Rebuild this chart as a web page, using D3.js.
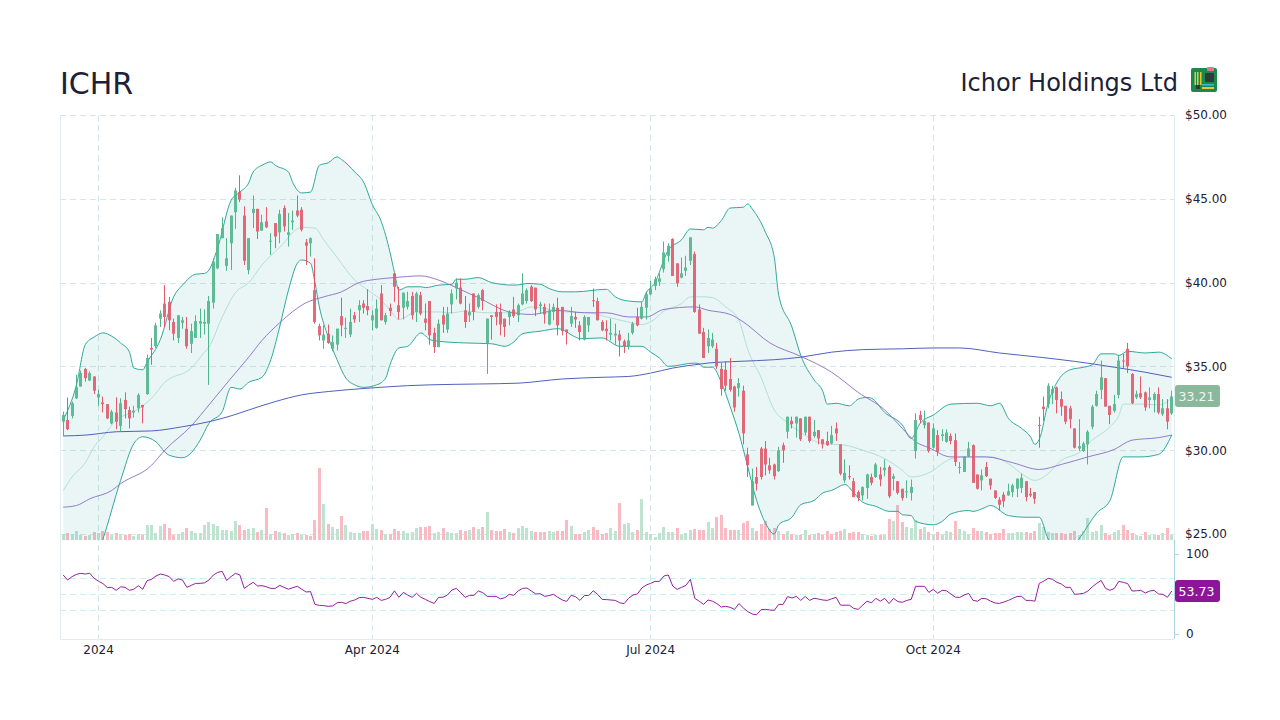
<!DOCTYPE html>
<html>
<head>
<meta charset="utf-8">
<script src="https://cdn.jsdelivr.net/npm/d3@7"></script>
<style>
html,body{margin:0;padding:0;background:#fff;}
svg{display:block;font-family:"DejaVu Sans",sans-serif;}
</style>
</head>
<body>
<svg id="c" width="1280" height="720"></svg>
<script>
const symbol = "ICHR";
const companyName = "Ichor Holdings Ltd";
const lastPrice = 33.21;
const lastRsi = 53.73;
const priceTicks = [25,30,35,40,45,50];
const rsiTicks = [0,100];
const rsiGuides = [30,50,70];
const dateTicks = [[8,"2024"],[70,"Apr 2024"],[133,"Jul 2024"],[197,"Oct 2024"]];

const opens = [31.7,31.8,32.05,33.1,33.8,34.85,34.15,34.4,33.15,32.85,
32.75,31.6,32.25,31.45,33,32.4,32.25,32.5,32.7,33.35,
36.1,36.2,37.85,38.75,38.85,37.65,36.7,37.6,37.25,36.35,
36.7,37.55,37.55,37.55,38.8,40.85,42.65,41,42.35,44.2,
45.4,44,40.75,44.15,44.4,43.1,43.65,42.45,43.55,43,
44.45,42.85,43.6,44.3,44.35,42.4,42.35,39.55,37.4,36.55,
36.95,36.05,36.3,38,37.25,36.9,38.05,38.35,38.75,38.6,
37.75,37.3,39.35,37.65,38.5,40.55,38.65,38.5,38.55,39.2,
38.25,39.25,37.85,38.9,37,36.15,38.05,37.2,38.7,39.65,
39.7,38.35,38.05,39.35,38.55,39.55,36.4,38.05,38.25,38.25,
37.85,37.95,38.4,38.05,38.7,38.9,39.75,39.7,38.6,38.55,
37.5,38.25,38.5,38.55,37.2,37.55,37.95,37.45,36.6,37.45,
38.95,38.9,37.65,37.25,36.9,36.85,36.9,36.5,36.2,37,
37.95,37.85,38.5,39.3,39.8,40.05,40.8,41.6,42.6,41.15,
40.3,40.7,41.3,41.7,38.4,37.05,36.2,36.2,36.05,34.85,
34.8,34.25,33.8,33.7,33.55,29.75,26.7,28.4,30.1,30.1,
29.1,29.15,28.75,30.3,31.1,31.75,31.6,31.9,31.05,32,
30.85,31.2,30.65,30.55,30.4,31.3,30.35,28.2,28.45,28.15,
27.5,27.3,27.75,28.4,28.4,28.55,28.8,29,28.3,28.15,
27.7,27.5,27.45,29.95,32.1,31.5,31.65,30.15,30.9,30.85,
30.5,30.85,30.6,28.95,28.7,29.65,30.3,28.55,28.2,29,
28.3,27.6,27.05,27.35,27.3,27.5,27.7,27.75,28.15,27.4,
27.5,31.5,32.6,32.75,33.4,33.75,33.05,32.65,32.5,31.3,
30.1,29.95,30.35,31.4,32.65,33.6,34.3,32.65,32.35,33.3,
35.35,36.05,34.55,33.15,33.4,33.45,33,33,33.35,32.15,
32.5,32.2];

const closes = [32.1,31.25,32.8,33.75,34.6,34.3,34.6,33.55,33.35,32.75,
31.9,32.3,31.7,32.8,32.45,31.9,32.35,33.3,32.55,35.5,
36,37.45,38.15,37.95,37.75,36.95,38.05,37.75,36.2,37.1,
37.7,37.7,37.65,38.9,41.25,42.9,43.25,41.45,44,45.5,
44.95,41.3,42.65,44.4,43.05,43.6,43.3,42.5,42.75,44.1,
43.35,43,43.7,44,43.15,42.2,42.65,37.65,36.85,36.9,
36.4,36.45,37.25,37.45,37.3,37.65,37.8,38.65,38.5,38.35,
38.05,38.45,37.75,38.05,38.3,39.75,38.25,39.4,38.9,38.05,
39.35,38.15,37.6,36.85,36.15,37.55,37.5,38.15,39.35,40,
38.75,37.65,38.25,38.25,39.25,38.9,37.85,37.95,37.95,37.5,
37.35,38.25,38,38.65,39.35,39.55,38.9,38.4,38.7,38.1,
38.35,38.55,37.45,37.1,37.05,38,37.8,37.05,37.95,37.95,
38.9,37.75,37.15,37.1,37,36.95,36.55,36.2,36.55,37.55,
37.45,38.55,39.3,39.65,40.2,40.25,41.8,42.2,40.4,39.95,
40.55,40.9,42.7,38.25,36.95,35.5,36.7,36.6,35,33.65,
33.85,33.6,32.55,34,31,29.1,28.15,28,28.4,29.15,
28.8,28.45,30,30,32,31.55,32,30.65,32,30.55,
31.1,30.7,30.35,30.3,30.9,31,28.6,28.65,28.4,27.2,
27.15,27.8,28.55,28.05,29.15,28.25,28.95,27.25,28.45,27.45,
27.15,27.55,27.8,31.8,31.8,31.75,29.95,31.3,29.9,30.95,
31.05,30.55,29.3,29,29.6,30.1,28.05,27.7,28.5,28.45,
27.9,27.15,26.75,26.95,27.55,27.9,28.3,28.35,27.2,27.3,
27.1,31.45,32.45,33.85,33.65,33,32.6,31.7,31.85,30.15,
30.25,30.4,31.1,32.6,33.35,34.35,32.6,32.1,32.75,35.35,
35.3,35,32.8,33.35,33.15,32.55,33.15,33.35,32.25,32.5,
31.7,33.21];

const highs = [32.3,33.15,32.9,34.5,34.75,34.9,34.7,34.4,33.6,33.2,
32.75,32.4,33.15,33.1,33.45,32.6,32.65,33.4,32.7,35.7,
36.7,37.6,38.35,39.85,39.15,37.85,38.05,37.95,37.95,37.55,
38.05,38.45,38.4,39.2,41.45,42.9,43.9,42.65,44,45.65,
46.4,44.55,42.65,45.2,44.4,44.05,44.5,42.95,43.55,44.35,
44.6,44.15,44.3,45.2,44.5,42.6,42.7,41.45,37.55,37.45,
37.5,36.85,37.25,39.1,37.9,38.45,38.25,38.95,38.95,39.6,
38.35,39,39.85,38.2,38.75,40.55,39.75,39.4,39.45,39.45,
39.45,39.45,38.75,38.9,37.3,37.8,38.55,38.55,39.6,40.25,
40.25,39.2,38.75,39.35,39.35,39.6,37.85,38.05,38.7,38.75,
37.85,38.35,39.15,38.75,40.55,39.65,39.85,39.7,38.85,38.75,
38.75,38.75,39.1,38.55,37.2,38.55,38.25,37.7,38.05,37.95,
39.65,39.1,37.75,37.75,37.85,37.55,37.15,36.6,37,37.65,
38.5,38.85,39.45,40.1,40.35,40.55,42.45,42.35,42.65,41.15,
41.5,41.6,42.7,41.85,38.7,37.3,37.2,37,36.4,35.2,
35.3,35.5,33.85,34.3,33.85,30.15,28.9,29,30.2,30.55,
29.55,29.2,30.2,30.45,32,32,32,31.9,32,32,
31.8,31.2,30.65,31.1,31.45,31.65,30.35,29.45,29.1,28.35,
27.6,27.85,28.6,28.6,29.25,29,29.45,29.1,28.6,28.15,
27.7,28.2,28.25,32.2,32.35,32.35,31.65,31.6,31.2,31.25,
31.25,31,31,29.3,29.65,30.5,30.35,28.55,28.85,29.3,
28.3,27.6,27.2,27.5,28,28,28.3,28.6,28.15,27.75,
27.5,32,33.2,34,33.85,33.8,33.5,32.65,32.65,31.3,
31.85,30.5,31.2,32.7,33.55,35.35,34.3,32.65,33.3,35.7,
35.75,36.4,34.6,33.55,34.4,33.5,33.75,33.45,33.75,33.05,
33.05,33.55];

const lows = [30.85,31.2,31.9,33.05,33.8,34.1,34.15,33.35,32.65,32.25,
31.85,31.55,31.25,31.1,31.9,31.3,31.95,32.25,31.6,33.3,
35.1,36.1,37.35,37.35,37.15,36.55,36.4,37.25,36.05,35.8,
36.7,36.7,36.9,33.9,38.45,40.8,42.65,40.7,40.75,43.2,
44.8,41.05,40.5,43.25,42.6,43.1,43.25,41.65,42.05,42.35,
43.05,42.15,43.15,43.9,43.05,41.05,41.55,37.55,36.55,36.05,
36.35,35.9,35.95,36.8,36.7,36.75,37.6,37.65,38.15,38.05,
37.15,37.25,37.75,37.5,38,38.85,37.8,37.8,38.4,37.8,
37.65,38.05,37.15,36.3,35.8,36.15,37,37,38.15,39,
38.7,37.3,37.65,37.75,38.45,38.35,34.55,36.6,37.45,36.85,
36.75,37.45,37.9,37.65,38.65,38.75,38.85,38,38.15,37.55,
37.45,37.75,36.85,36.85,36.3,37.35,37.3,36.55,36.55,37.05,
38.55,37.75,37.1,36.55,36.55,36.3,35.6,35.8,36,36.9,
37.4,37.8,37.8,39.25,39.55,39.8,40.6,41.25,40.4,39.75,
40.25,40.4,41.05,38.2,36.95,35.5,35.8,36.1,34.85,33.25,
33.55,33.5,32.3,33.2,30.35,28.4,26.7,27.6,28.25,28.5,
28.6,28.25,28.7,29.25,30.7,31.3,30.75,30.55,30.9,30.45,
30.75,30.35,30.1,30.25,30.35,30.55,28.5,28.05,28.25,27.2,
26.95,27,27.1,27.9,28.35,27.85,28.45,27.15,27.6,27.35,
27,27.15,27,29.5,31.6,31.3,29.85,30.1,29.65,30.55,
30.45,30.35,29.05,28.6,28.7,29.6,28.05,27.65,27.6,28.4,
27.65,27.1,26.4,26.6,27.3,27.2,27.2,27.45,26.95,27.2,
26.8,30.15,31.75,32.5,32.75,32.2,32.05,31.55,31.3,30.1,
29.95,29.9,29.15,31.25,32.6,33.05,32.6,31.55,32.25,33.1,
34.9,34.6,32.75,33.05,33.05,32.35,32.5,32.25,32.15,32.05,
31.25,32.1];

// relative volume: the source has no volume axis
const volumes = [6,7,6,9,5,4,5,8,7,9,8,5,7,6,5,6,4,6,5,15,15,7,14,16,12,5,6,8,12,9,7,7,15,18,16,14,10,10,9,19,15,10,11,12,8,10,32,6,9,8,7,5,6,7,5,5,4,20,72,36,16,
13,11,24,15,8,7,7,9,9,16,11,10,6,6,11,9,9,7,8,12,13,13,14,7,8,12,8,
7,7,10,9,10,13,11,13,28,10,9,9,11,8,7,12,14,12,9,8,8,8,9,8,9,9,20,14,6,6,8,10,13,10,6,7,12,9,37,16,17,
8,10,41,8,6,3,7,13,8,8,12,5,7,10,11,10,10,18,12,23,25,12,10,10,10,17,19,12,9,16,19,11,12,9,6,9,6,5,5,10,5,6,7,5,9,6,8,9,11,7,8,8,6,5,4,5,5,5,21,19,35,18,13,
12,20,11,13,8,5,8,5,9,8,19,11,9,6,12,9,9,8,6,7,7,11,7,7,8,8,8,7,9,17,13,8,7,7,7,6,7,9,5,9,22,8,9,15,7,5,8,10,15,10,7,5,4,8,5,5,5,7,12,5];

const volumeUp = [1,0,1,1,1,0,1,0,1,0,0,1,0,1,0,0,1,1,0,1,1,1,1,0,0,0,1,1,0,1,1,1,1,1,1,1,1,1,1,1,0,0,1,1,0,1,0,1,0,1,0,1,1,0,1,0,0,0,0,1,0,
1,1,0,1,1,1,1,0,0,1,1,0,1,0,0,0,1,1,1,1,0,0,0,1,1,0,1,
1,1,0,0,1,0,1,0,1,0,0,0,0,1,0,1,1,1,1,0,0,0,1,1,0,0,0,1,0,0,1,1,0,0,0,0,1,1,0,1,1,
1,0,1,1,1,1,1,1,1,1,0,1,1,1,0,0,0,1,1,0,0,0,0,0,1,0,0,1,0,0,0,0,0,1,0,1,0,1,0,1,0,1,0,0,0,0,0,0,1,0,0,0,1,1,0,1,0,1,0,1,0,0,1,
1,1,0,1,0,1,0,1,1,1,0,1,1,1,0,0,1,0,0,0,0,0,1,1,1,1,0,0,0,1,1,1,1,0,0,0,0,0,1,1,1,1,1,1,0,0,1,1,0,0,0,1,1,0,1,1,0,1,0,1];

const rsi = [73.75,67.5,71.7,74.6,75.8,75,76,69.6,66,63,58,58.3,54.6,59,58.3,54.6,56,60.4,56,66.7,68.3,72.5,75,73.75,71.7,65.8,69,67.5,58.3,60.8,63.3,63.3,64,67.5,73.75,77,78.3,67,71.7,75.8,73.75,57,61,64.6,60,60.4,59,57,57,60.8,58.3,56,58,59.6,56,52.5,53,37,35.8,35.4,34.6,35,39,39.6,38,41,42.5,45.4,45.8,44.6,43.3,45.8,42,43.3,45.8,54,45.8,52,48.75,45.8,50.8,45.8,43.3,40.4,38.3,45.8,46,48.75,
55,57,51.7,45.8,48.3,48.3,53.75,51.7,47,47,47,44,45.4,49.6,48.3,53.75,57,57.5,53.75,50,50.4,47,48,49.6,45.8,42.5,40.8,48.3,46.7,42,48,48.3,54,49.6,43.3,43,42.5,42,39,38,44.6,48.75,50,57.5,61.25,63.3,65.8,65.8,72.5,73.75,60,55.8,58.3,60.8,68.3,44.6,41,37,42.5,41,38,33.75,34.6,33.3,30.8,38,32.5,28,25,24,30.4,30.8,30,29.6,37,37,46.7,45,47,42,47,42,44.6,43.75,42.5,42,44,45.8,
36,36,36,32,30.8,36,41,39,44.6,41,44.6,38,44.6,40.4,39.6,42,43.3,59.6,59.6,59.6,52,55.8,51,54.6,54,50,46,45.8,48.75,50.8,42,41,44.6,44,41,38.75,38.3,40,42,44.6,47,47,42,42,41,63.3,66,69.6,68.3,64.6,62.5,58.3,58.3,49.6,50,50.8,53.75,59,63.3,67,57,54.6,57,65.8,64.6,63,53.75,54,54.6,51.25,53.75,54.6,50,49.6,45.8,53.73];

// [session index, price] readings taken along each smooth overlay
const bbUpper = [[0,31.8],[3,33.9],[5,36.3],[7,36.75],[9,37],[11,36.8],[13,36.4],[15,35.85],[16,34.9],[18,34.8],[19,35.25],[22,36.6],[25,39.15],[27,39.85],[30,40.5],[32,40.55],[33,40.75],[35,42.1],[38,44.9],[40,45.4],[42,45.95],[43,46.6],[45,47],[47,47.2],[48,47],[51,46.6],[52,45.95],[54,45.35],[56,45.4],[58,47],[60,47.15],[62,47.5],[63,47.35],[66,46.6],[68,46],[70,44.65],[72,43.65],[74,41.8],[75,40.6],[76,39.55],[78,39.75],[81,39.75],[82,39.7],[85,39.85],[88,39.9],[89,40.2],[91,40.2],[94,40.3],[97,40],[102,39.85],[104,39.9],[105,39.95],[108,39.9],[110,39.65],[113,39.45],[116,39.45],[123,39.6],[125,39.15],[128,38.9],[131,38.85],[132,39.4],[134,40],[136,41.35],[137,41.95],[140,42.55],[142,43.2],[145,43.15],[146,43.3],[147,43.25],[149,43.7],[151,44.45],[154,44.5],[155,44.7],[156,44.4],[159,43],[161,41.5],[162,39.25],[165,37.35],[167,35.65],[170,34.2],[172,33.5],[173,32.75],[175,32.8],[178,32.65],[180,33.05],[182,33.15],[183,33.1],[186,32.25],[190,31.5],[192,30.7],[194,31.6],[197,32.1],[201,32.75],[207,32.8],[210,32.65],[212,32.8],[214,31.9],[217,31.3],[219,30.8],[220,30.35],[221,30.65],[223,32.8],[225,34.05],[228,34.8],[231,34.95],[233,35.1],[235,35.75],[238,35.75],[239,35.65],[241,35.9],[245,35.8],[248,35.85],[251,35.45]];

const bbLower = [[0,21],[5,22],[9,24.7],[13,28.2],[16,30.4],[18,30.8],[21,30.5],[23,29.9],[24,29.7],[27,29.55],[29,29.85],[31,30.6],[33,31.6],[36,32.3],[38,33.75],[40,33.65],[42,34.05],[45,34.35],[47,35.4],[49,37.35],[51,39.55],[53,41.15],[54,41.35],[56,41.15],[57,40],[58,38.55],[60,36.75],[62,35.4],[64,34.3],[66,33.9],[68,33.75],[71,33.9],[73,34.3],[74,35.1],[76,36.1],[78,36.2],[81,37],[83,36.6],[85,36.5],[91,36.4],[97,36.35],[100,36.2],[102,36.45],[104,36.95],[108,37.1],[112,37.25],[116,36.75],[117,36.65],[122,36.7],[126,36.2],[131,36.2],[133,35.85],[135,35.5],[137,35],[143,35.2],[144,35.15],[145,34.95],[147,34.95],[149,34.05],[151,32.6],[153,31],[155,29],[157,27],[159,25.65],[161,25],[162,25.55],[165,26],[167,26.75],[170,27],[172,27.45],[174,27.6],[177,27.95],[179,27.45],[181,26.9],[184,26.65],[187,26.35],[189,26.35],[190,26.15],[192,26.1],[193,25.75],[197,25.55],[199,25.75],[201,26.2],[205,26.4],[206,26.35],[208,26.5],[210,26.7],[214,26.1],[218,26],[221,26],[223,24.7],[225,24],[227,23.75],[230,24.7],[234,26.25],[237,27],[240,29.6],[244,29.6],[248,29.75],[251,30.9]];

const bbMiddle = [[0,27.6],[2,28.4],[5,29.25],[7,30.2],[9,30.8],[12,31.8],[16,32.3],[20,33.1],[23,34.05],[29,34.9],[32,35.85],[33,36.15],[36,37.95],[39,39.4],[42,40],[45,41.05],[49,42.1],[54,43.3],[57,43.25],[59,42.55],[62,41.5],[66,40.15],[69,39.55],[72,38.95],[74,38.35],[76,37.8],[80,38.25],[85,38.25],[88,38.2],[91,38.3],[96,38.2],[102,38.2],[106,38.55],[110,38.4],[114,38.25],[119,38.2],[123,37.95],[128,37.65],[131,37.5],[133,37.65],[136,38.3],[140,38.75],[142,39.15],[145,39.15],[147,39.1],[150,38.55],[153,37.75],[155,36],[158,34.35],[161,32.4],[164,31.65],[167,31.05],[172,30.4],[177,30.3],[181,30],[186,29.5],[190,28.8],[192,28.4],[197,28.8],[199,29.2],[202,29.55],[206,29.6],[210,29.6],[214,29.2],[217,28.6],[220,28.2],[223,28.6],[226,29.4],[230,29.85],[233,30.6],[237,31.4],[239,32.05],[240,32.75],[244,32.75],[248,32.7],[251,33.1]];

const sma50 = [[0,26.6],[3,26.7],[6,27.1],[11,27.6],[13,28],[20,29.1],[23,30],[29,31.45],[33,32.7],[38,34.3],[42,35.55],[45,36.55],[49,37.6],[55,38.8],[59,39.15],[63,39.45],[67,40],[71,40.2],[75,40.3],[81,40.4],[85,40.15],[89,39.7],[94,39.1],[101,38.25],[106,38.1],[112,38.35],[118,38.2],[123,38.2],[128,37.95],[132,37.95],[136,38.4],[143,38.55],[146,38.35],[151,38.1],[154,37.65],[160,36.4],[167,35.6],[174,34.65],[180,33.45],[186,32.4],[190,31.3],[193,30.5],[196,30.15],[201,29.6],[209,29.6],[215,29.25],[221,28.85],[226,29.15],[232,29.6],[238,30.05],[242,30.6],[248,30.75],[251,30.9]];

const sma200 = [[0,30.85],[5,30.9],[12,31.1],[20,31.15],[27,31.4],[33,31.7],[38,32.05],[42,32.4],[48,32.9],[54,33.3],[60,33.5],[69,33.7],[78,33.85],[83,33.9],[94,33.95],[103,34],[113,34.25],[122,34.35],[128,34.4],[133,34.6],[138,34.9],[143,35.1],[146,35.2],[153,35.3],[161,35.4],[167,35.55],[174,35.85],[181,36],[190,36.05],[197,36.1],[203,36.1],[212,35.8],[221,35.55],[229,35.3],[238,34.95],[245,34.65],[251,34.35]];

const colors = {
  ink:"#1b2136", up:"#4fb58b", upWick:"#3fae80", down:"#e05a6c", downWick:"#e8475c",
  volUp:"#bfe3d1", volDown:"#f9bac3", band:"#26a69a", bandLine:"#2fa99c", mid:"#b2dfd8",
  sma50:"#8a6cc6", sma200:"#5060bb", rsi:"#95209f", grid:"#d5e6ea", rsiGrid:"#c8eef8",
  edge:"#dfecf0", axis:"#aed2e0", priceTag:"#8bb89b", rsiTag:"#8e1599"
};

const svg = d3.select("#c");
const n = closes.length;
const x = d3.scaleBand().domain(d3.range(n)).range([61,1174]);
const cx = i => Math.floor(x(i) + x.bandwidth()/2);
const y = d3.scaleLinear().domain([25,50]).range([534,115]);
const yVol = d3.scaleLinear().domain([0,100]).range([540,440]);
const yRsi = d3.scaleLinear().domain([0,100]).range([634,554]);
const [plotL,plotR,plotT,plotB,rsiB] = [60,1174,115,540,639];

svg.append("defs").append("clipPath").attr("id","pane").append("rect")
  .attr("x",plotL).attr("y",plotT).attr("width",plotR-plotL).attr("height",plotB-plotT);

// frame
const frame = svg.append("g");
frame.append("line").attr("x1",plotL+.5).attr("x2",plotL+.5).attr("y1",plotT).attr("y2",rsiB).attr("stroke",colors.edge);
frame.append("line").attr("x1",plotR+.5).attr("x2",plotR+.5).attr("y1",plotT).attr("y2",plotB).attr("stroke",colors.edge);
frame.append("line").attr("x1",plotR+.5).attr("x2",plotR+.5).attr("y1",plotB).attr("y2",rsiB).attr("stroke",colors.axis);
frame.append("line").attr("x1",plotL).attr("x2",plotR).attr("y1",rsiB+.5).attr("y2",rsiB+.5).attr("stroke",colors.edge);

// grid
const grid = svg.append("g").attr("fill","none").attr("stroke-dasharray","6 4");
grid.selectAll("line.h").data(priceTicks).join("line").attr("class","h")
  .attr("x1",plotL).attr("x2",plotR)
  .attr("y1",d=>Math.round(y(d))+.5).attr("y2",d=>Math.round(y(d))+.5).attr("stroke",colors.grid);
grid.selectAll("line.v").data(dateTicks).join("line").attr("class","v")
  .attr("x1",d=>cx(d[0])+.5).attr("x2",d=>cx(d[0])+.5)
  .attr("y1",plotT).attr("y2",rsiB).attr("stroke",colors.grid);
grid.selectAll("line.r").data(rsiGuides).join("line").attr("class","r")
  .attr("x1",plotL).attr("x2",plotR)
  .attr("y1",d=>Math.round(yRsi(d))+.5).attr("y2",d=>Math.round(yRsi(d))+.5).attr("stroke",colors.rsiGrid);

// volume
svg.append("g").selectAll("rect").data(volumes).join("rect")
  .attr("x",(d,i)=>cx(i)-1).attr("width",3)
  .attr("y",d=>yVol(d)).attr("height",d=>yVol(0)-yVol(d))
  .attr("fill",(d,i)=>volumeUp[i]?colors.volUp:colors.volDown);

// Bollinger band and moving averages
const line = d3.line().x(d=>x(d[0])+x.bandwidth()/2).y(d=>y(d[1])).curve(d3.curveMonotoneX);
const overlay = svg.append("g").attr("clip-path","url(#pane)");
overlay.append("path")
  .attr("d", line(bbUpper) + "L" + line(bbLower.slice().reverse()).slice(1) + "Z")
  .attr("fill",colors.band).attr("fill-opacity",.1);
[[bbMiddle,colors.mid,1],[bbUpper,colors.bandLine,1],[bbLower,colors.bandLine,1],[sma50,colors.sma50,.9],[sma200,colors.sma200,1]]
  .forEach(([pts,c,w])=>overlay.append("path").attr("d",line(pts)).attr("fill","none").attr("stroke",c).attr("stroke-width",w));

// candles
const candles = svg.append("g").attr("opacity",.9).selectAll("g").data(d3.range(n)).join("g");
candles.append("rect").attr("x",i=>cx(i)).attr("width",1)
  .attr("y",i=>y(highs[i])).attr("height",i=>y(lows[i])-y(highs[i]))
  .attr("fill",i=>closes[i]>=opens[i]?colors.upWick:colors.downWick);
candles.append("rect").attr("x",i=>cx(i)-1).attr("width",3)
  .attr("y",i=>y(Math.max(opens[i],closes[i])))
  .attr("height",i=>Math.max(1,Math.abs(y(opens[i])-y(closes[i]))))
  .attr("fill",i=>closes[i]>=opens[i]?colors.up:colors.down);

// RSI
svg.append("path").datum(rsi)
  .attr("d",d3.line().x((d,i)=>x(i)+x.bandwidth()/2).y(d=>yRsi(d)))
  .attr("fill","none").attr("stroke",colors.rsi).attr("stroke-width",1);

// axes
const styleAxis = g => { g.select(".domain").remove(); g.selectAll("text").attr("fill",colors.ink).attr("font-size",12).attr("font-family","DejaVu Sans"); };
svg.append("g").attr("transform",`translate(${plotR},0)`)
  .call(d3.axisRight(y).tickValues(priceTicks).tickFormat(d=>"$"+d.toFixed(2)).tickSize(0).tickPadding(11))
  .call(styleAxis);
svg.append("g").attr("transform",`translate(${plotR},0)`)
  .call(d3.axisRight(yRsi).tickValues(rsiTicks).tickSize(5).tickPadding(7))
  .call(styleAxis).call(g=>g.selectAll("line").attr("stroke",colors.axis));
const xAxis = d3.axisBottom(x).tickValues(dateTicks.map(d=>d[0]))
  .tickFormat(i=>dateTicks.find(d=>d[0]===i)[1]).tickSize(0).tickPadding(6);
svg.append("g").attr("transform",`translate(0,${rsiB})`).call(xAxis).call(styleAxis);

// value tags
function tag(v,yv,fill,fg){
  const g = svg.append("g").attr("transform",`translate(1175,${Math.round(yv)})`);
  g.append("rect").attr("x",0).attr("y",-11).attr("width",45).attr("height",22).attr("rx",3).attr("fill",fill);
  g.append("text").attr("x",21.5).attr("y",4.5).attr("text-anchor","middle").attr("font-size",12.5).attr("fill",fg).text(v.toFixed(2));
}
tag(lastPrice,y(lastPrice),colors.priceTag,"#eef6f0");
tag(lastRsi,yRsi(lastRsi),colors.rsiTag,"#ffffff");

// titles
svg.append("text").attr("x",60).attr("y",93.5).attr("font-size",30).attr("fill",colors.ink).text(symbol);
svg.append("text").attr("x",1178).attr("y",91).attr("text-anchor","end").attr("font-size",24).attr("fill",colors.ink).text(companyName);

// circuit-board icon
const icon = svg.append("g").attr("transform","translate(1191,67)");
const iconRects = [[0,1,26,24,"#178a4c",2],[16,0,7,4,"#e8738f",1],[6,5,1.5,13,"#e6c635",0],[9,5,1.5,13,"#e6c635",0],[3.5,5,1.5,13,"#e6c635",0],[14,6,9,9,"#2f3a3a",1],[5,18,4,4,"#2f3a3a",0],[11,17,12,1.5,"#48b6c8",0],[11,20,12,2,"#e6c635",0]];
icon.selectAll("rect").data(iconRects).join("rect")
  .attr("x",d=>d[0]).attr("y",d=>d[1]).attr("width",d=>d[2]).attr("height",d=>d[3]).attr("fill",d=>d[4]).attr("rx",d=>d[5]);
</script>
</body>
</html>
